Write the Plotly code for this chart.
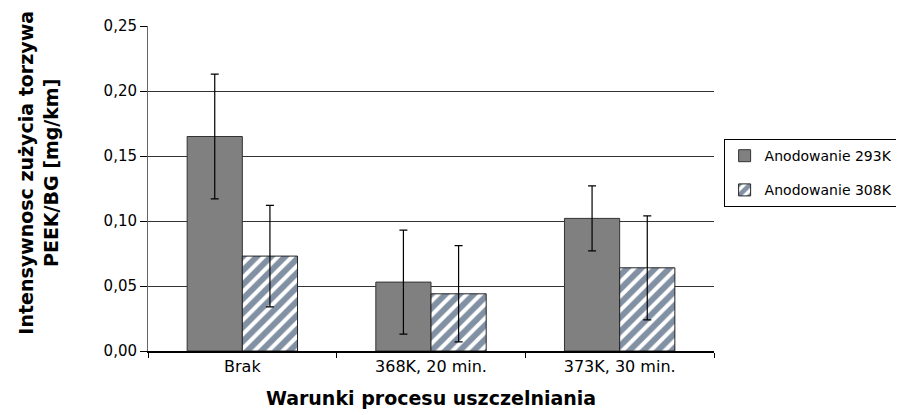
import plotly.graph_objects as go

categories = ["Brak", "368K, 20 min.", "373K, 30 min."]
series_names = ["Anodowanie 293K", "Anodowanie 308K"]
values_293 = [0.165, 0.053, 0.102]
errors_293 = [0.048, 0.040, 0.025]
values_308 = [0.073, 0.044, 0.064]
errors_308 = [0.039, 0.037, 0.040]
y_ticks = [0.00, 0.05, 0.10, 0.15, 0.20, 0.25]

FONT = "DejaVu Sans, Liberation Sans, Arial, sans-serif"

fig = go.Figure()
fig.add_trace(go.Bar(
    x=categories, y=values_293, name=series_names[0],
    marker=dict(color="#808080", line=dict(color="#333333", width=1)),
    error_y=dict(type="data", array=errors_293, color="black", thickness=1.2, width=4),
    legendgroup="a",
))
fig.add_trace(go.Bar(
    x=categories, y=values_308, name=series_names[1],
    marker=dict(color="white", line=dict(color="#222222", width=1),
                pattern=dict(shape="/", fgcolor="#06224A", bgcolor="white",
                             size=10, solidity=0.6)),
    error_y=dict(type="data", array=errors_308, color="black", thickness=1.2, width=4),
    legendgroup="b",
))

fig.update_layout(
    width=904, height=415,
    margin=dict(l=140, r=198, t=18, b=72, autoexpand=False),
    paper_bgcolor="white", plot_bgcolor="white",
    barmode="group", bargap=0.415, bargroupgap=0,
    separators=", ",
    font=dict(family=FONT, size=15, color="black"),
    showlegend=True,
    legend=dict(
        x=1.017, y=0.652, xanchor="left", yanchor="top",
        bordercolor="black", borderwidth=1, bgcolor="white",
        font=dict(size=14, family=FONT), traceorder="grouped",
        tracegroupgap=13, itemwidth=30,
    ),
    annotations=[dict(
        text="<b>Intensywnosc zużycia torzywa<br>PEEK/BG [mg/km]</b>",
        xref="paper", yref="paper", x=-0.193, y=0.548,
        xanchor="center", yanchor="middle", textangle=-90,
        showarrow=False, font=dict(size=19, family=FONT),
    )],
)
fig.update_xaxes(
    showline=True, linecolor="black", linewidth=2,
    ticks="outside", tickson="boundaries", ticklen=5, tickcolor="black",
    tickfont=dict(size=16),
    title=dict(text="<b>Warunki procesu uszczelniania</b>", font=dict(size=19), standoff=16),
    showgrid=False,
)
fig.update_yaxes(
    range=[0, 0.25], tickvals=y_ticks, tickformat=".2f",
    showline=True, linecolor="#666666", linewidth=1,
    ticks="outside", ticklen=7, tickcolor="black",
    showgrid=True, gridcolor="#333333", gridwidth=1,
    tickfont=dict(size=15),
    zeroline=False,
)
fig.write_html("out.html")
